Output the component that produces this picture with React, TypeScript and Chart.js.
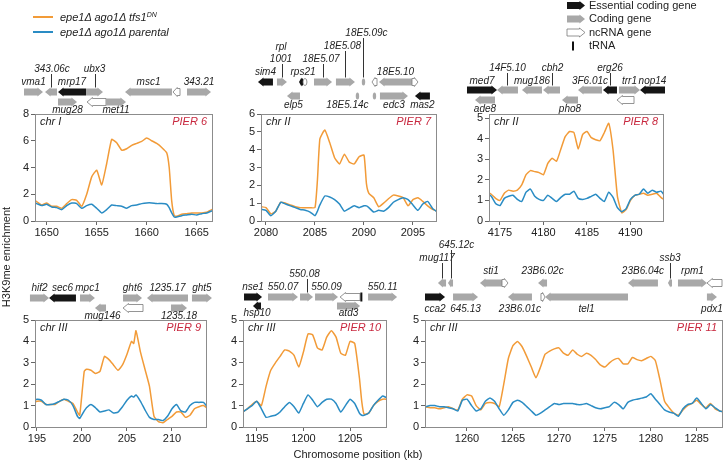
import React, { useEffect, useRef } from "react";
import { Chart, registerables } from "chart.js";

Chart.register(...registerables);

const FONT = "'Liberation Sans', Arial, Helvetica, sans-serif";
const ORANGE = "#f29b38";
const BLUE = "#2a8cc4";
const PIER_RED = "#c8283f";

// ---------- PIER 6 (chr I) ----------
const pier6Ticks = [1650, 1655, 1660, 1665];
const pier6Pos = [1648.5,1649,1649.5,1650,1650.5,1651,1651.5,1652,1652.5,1653,1653.5,1654,1654.5,1655,1655.5,1656,1656.5,1657,1657.5,1658,1658.5,1659,1659.5,1660,1660.5,1661,1661.5,1662,1662.25,1662.5,1662.75,1663,1663.5,1664,1664.5,1665,1665.5,1666,1666.5,1667];
const pier6Tfs = [1.6,1.45,1.2,1.35,1.1,1.1,0.95,1.3,1.6,1.55,1.1,2.0,3.3,3.8,2.7,4.3,6.1,5.85,5.3,5.4,5.65,5.8,5.95,6.2,6.0,5.8,5.5,5.1,4.0,1.5,0.4,0.35,0.5,0.55,0.6,0.6,0.6,0.65,0.85,0.9];
const pier6Par = [1.4,1.3,1.15,1.25,1.05,1.0,0.85,1.15,1.35,1.3,0.95,1.15,1.25,0.95,0.6,0.85,1.2,1.15,1.1,0.95,1.15,1.2,1.3,1.35,1.35,1.3,1.3,1.25,1.0,0.6,0.3,0.3,0.4,0.45,0.5,0.45,0.55,0.6,0.75,0.8];

// ---------- PIER 7 (chr II) ----------
const pier7Ticks = [2080, 2085, 2090, 2095];
const pier7Pos = [2079.5,2080,2080.5,2081,2081.5,2082,2082.5,2083,2083.5,2084,2084.5,2085,2085.25,2085.5,2086,2086.5,2087,2087.5,2088,2088.5,2089,2089.5,2090,2090.25,2090.5,2091,2091.5,2092,2092.5,2093,2093.5,2094,2094.5,2095,2095.5,2096,2096.5,2097,2097.5];
const pier7Tfs = [0.8,0.75,0.4,0.55,1.05,1.0,0.9,0.8,0.75,0.75,0.75,0.75,2.3,4.6,5.1,4.4,3.55,3.2,3.75,3.3,3.2,3.6,3.7,2.1,1.55,1.3,0.8,1.0,1.25,1.45,1.4,1.3,0.85,1.2,1.3,1.1,0.85,0.65,0.55];
const pier7Par = [0.65,0.6,0.3,0.55,1.05,0.95,0.85,0.75,0.65,0.6,0.5,0.3,0.55,0.9,1.4,1.35,1.2,0.95,0.55,0.7,0.85,0.75,0.85,0.85,0.75,0.5,0.6,0.55,0.75,1.05,1.2,1.3,1.2,0.9,0.6,0.95,1.1,0.7,0.5];

// ---------- PIER 8 (chr II) ----------
const pier8Ticks = [4175, 4180, 4185, 4190];
const pier8Pos = [4173.5,4174,4174.5,4175,4175.5,4176,4176.5,4177,4177.5,4178,4178.5,4179,4179.5,4180,4180.5,4181,4181.5,4182,4182.5,4183,4183.5,4184,4184.5,4185,4185.5,4186,4186.5,4187,4187.5,4188,4188.5,4189,4189.5,4190,4190.5,4191,4191.5,4192,4192.5,4193,4193.5,4194];
const pier8Tfs = [1.4,1.3,1.1,1.0,1.35,1.5,1.45,1.5,1.75,2.25,2.45,2.4,2.35,2.25,2.8,3.05,2.9,3.5,4.1,4.35,4.3,3.5,4.2,4.35,4.05,3.95,3.9,4.3,4.75,3.45,1.2,0.4,0.55,1.0,1.25,1.3,1.35,1.25,1.3,1.35,1.15,1.0];
const pier8Par = [1.35,1.2,0.85,0.75,1.1,1.2,1.25,1.05,0.95,1.4,1.55,1.2,1.05,1.0,1.25,1.1,0.95,1.15,1.3,1.3,1.45,1.1,1.05,1.1,1.2,1.3,1.1,0.95,1.4,1.15,0.65,0.45,0.6,1.05,1.25,1.3,1.55,1.35,1.5,1.4,1.45,1.2];

// ---------- PIER 9 (chr III) ----------
const pier9Ticks = [195, 200, 205, 210];
const pier9Pos = [194.5,195,195.5,196,196.5,197,197.5,198,198.5,199,199.5,199.75,200.25,200.5,201,201.5,202,202.5,203,203.5,204,204.5,205,205.5,205.75,206,206.5,207,207.5,208,208.5,209,209.5,210,210.5,211,211.5,212,212.5,213,213.5,214];
const pier9Tfs = [1.1,1.2,1.2,1.05,1.05,1.05,1.2,1.3,1.2,1.1,0.7,0.55,2.6,2.7,2.65,2.5,2.6,3.3,3.15,2.9,2.65,2.9,3.4,4.0,3.9,4.5,3.5,2.7,1.9,0.5,0.25,0.2,0.35,0.5,0.7,0.7,0.45,0.55,0.85,0.95,1.0,0.85];
const pier9Par = [1.2,1.3,1.25,1.05,1.05,1.1,1.2,1.3,1.25,1.0,0.5,0.4,0.75,0.9,1.05,0.9,0.7,0.75,0.8,0.65,0.7,0.95,1.25,1.45,1.4,1.5,1.2,0.8,0.45,0.35,0.35,0.3,0.5,0.85,1.05,0.75,0.7,1.0,1.15,1.15,1.15,0.9];

// ---------- PIER 10 (chr III) ----------
const pier10Ticks = [1195, 1200, 1205];
const pier10Pos = [1193.5,1194,1194.5,1195,1195.5,1196,1196.5,1197,1197.5,1198,1198.5,1199,1199.5,1200,1200.5,1201,1201.5,1202,1202.5,1203,1203.5,1204,1204.5,1205,1205.5,1206,1206.25,1206.5,1207,1207.5,1208,1208.5,1209];
const pier10Tfs = [0.7,0.85,1.05,1.2,1.0,1.9,2.65,3.0,3.3,3.6,3.55,3.35,2.8,3.5,4.35,4.3,3.7,3.6,4.2,4.5,4.2,3.45,3.35,4.0,3.9,2.3,1.2,0.6,0.65,1.0,1.2,1.3,1.3];
const pier10Par = [0.7,0.85,1.0,1.2,0.85,0.45,0.5,0.55,0.7,0.95,1.15,0.95,0.65,1.1,1.5,1.25,0.95,1.15,1.3,1.3,1.1,0.7,1.0,1.3,1.1,0.65,0.55,0.55,0.65,1.0,1.25,1.45,1.35];

// ---------- PIER 11 (chr III) ----------
const pier11Ticks = [1260, 1265, 1270, 1275, 1280, 1285];
const pier11Pos = [1255.5,1256,1256.5,1257,1257.5,1258,1258.5,1259,1259.5,1260,1260.5,1261,1261.5,1262,1262.5,1263,1263.5,1264,1264.5,1265,1265.5,1266,1266.5,1267,1267.5,1268,1268.5,1269,1269.5,1270,1270.5,1271,1271.5,1272,1272.5,1273,1273.5,1274,1274.5,1275,1275.5,1276,1276.5,1277,1277.5,1278,1278.5,1279,1279.5,1280,1280.5,1281,1281.5,1282,1282.5,1283,1283.5,1284,1284.5,1285,1285.5,1286,1286.5,1287,1287.5,1288];
const pier11Tfs = [0.95,0.9,0.9,0.85,0.9,0.95,0.85,0.8,1.3,1.5,1.45,1.0,0.8,1.1,1.15,1.1,0.95,2.0,3.2,3.8,4.0,3.75,3.3,2.8,2.3,2.8,3.4,3.55,3.65,3.7,3.45,3.35,3.6,3.4,3.3,3.45,3.35,3.15,2.9,2.8,3.0,3.15,3.2,2.95,2.95,3.25,3.15,3.1,3.2,3.3,3.1,2.2,1.2,0.9,0.65,0.55,0.8,1.0,1.1,1.25,1.05,0.9,1.1,0.85,0.75,0.7];
const pier11Par = [0.95,1.0,1.0,0.95,0.95,0.9,0.85,0.75,1.25,1.3,1.0,0.75,0.85,1.2,1.35,1.2,0.85,0.55,0.8,1.15,1.25,1.15,0.95,0.75,0.55,0.65,0.8,0.95,1.1,1.05,1.1,1.1,1.1,1.05,1.05,1.1,1.0,0.9,0.85,0.9,0.95,1.15,1.05,0.85,1.15,1.25,1.3,1.35,1.4,1.55,1.3,1.05,0.8,0.7,0.65,0.5,0.85,1.05,1.1,1.35,1.1,0.85,1.05,0.9,0.75,0.7];

// ---------- Gene annotations: [name, start kb, end kb, strand, kind(E/C/N/T), row] ----------
type Gene = [string, number, number, number, string, number];

const genes6: Gene[] = [
  ["vma1", 1647.73, 1649.63, 1, "C", 0],
  ["343.06c", 1649.83, 1651.03, -1, "C", 0],
  ["mrp17", 1651.13, 1653.93, -1, "E", 0],
  ["ubx3", 1653.93, 1655.63, 1, "C", 0],
  ["msc1", 1657.83, 1662.53, -1, "C", 0],
  ["", 1662.63, 1663.33, -1, "N", 0],
  ["343.21", 1664.03, 1666.43, 1, "C", 0],
  ["mug28", 1651.13, 1653.03, 1, "C", 1],
  ["", 1654.03, 1655.93, -1, "N", 1],
  ["met11", 1655.93, 1657.93, 1, "C", 1],
];
const genes7: Gene[] = [
  ["sim4", 2079.18, 2080.71, -1, "E", 0],
  ["rpl\n1001", 2081.12, 2082.14, 1, "C", 0],
  ["rps21", 2083.37, 2083.78, -1, "E", 0],
  ["", 2083.78, 2084.18, -1, "N", 0],
  ["18E5.07", 2084.9, 2086.74, 1, "C", 0],
  ["18E5.08", 2087.14, 2089.08, 1, "C", 0],
  ["18E5.09c", 2089.8, 2090.1, -1, "C", 0],
  ["", 2090.82, 2091.33, -1, "N", 0],
  ["18E5.10", 2091.53, 2094.9, -1, "C", 0],
  ["", 2094.9, 2095.51, 1, "N", 0],
  ["elp5", 2082.14, 2083.47, -1, "C", 1],
  ["18E5.14c", 2089.18, 2089.49, -1, "C", 1],
  ["", 2090.92, 2091.22, -1, "C", 1],
  ["edc3", 2091.63, 2094.49, 1, "C", 1],
  ["mas2", 2095.2, 2096.73, -1, "E", 1],
];
const genes8: Gene[] = [
  ["med7", 4171.21, 4174.66, 1, "E", 0],
  ["14F5.10", 4174.66, 4177.07, -1, "C", 0],
  ["mug186", 4177.53, 4179.83, -1, "C", 0],
  ["cbh2", 4179.95, 4181.9, -1, "C", 0],
  ["3F6.01c", 4183.97, 4186.73, -1, "C", 0],
  ["erg26", 4186.84, 4188.45, -1, "E", 0],
  ["trr1", 4188.68, 4191.1, 1, "C", 0],
  ["nop14", 4191.1, 4193.97, -1, "E", 0],
  ["ade8", 4172.13, 4174.43, -1, "C", 1],
  ["pho8", 4182.13, 4183.97, -1, "C", 1],
  ["", 4188.45, 4190.41, -1, "N", 1],
];
const genes9: Gene[] = [
  ["hif2", 194.22, 196.34, 1, "C", 0],
  ["sec6", 196.34, 199.33, -1, "E", 0],
  ["mpc1", 199.78, 201.44, 1, "C", 0],
  ["ght6", 204.56, 206.67, 1, "C", 0],
  ["1235.17", 207.22, 211.78, -1, "C", 0],
  ["ght5", 212.22, 214.44, 1, "C", 0],
  ["mug146", 201.44, 202.67, -1, "C", 1],
  ["", 204.56, 206.78, -1, "N", 1],
  ["1235.18", 209.89, 211.67, 1, "C", 1],
];
const genes10: Gene[] = [
  ["nse1", 1193.64, 1195.57, 1, "E", 0],
  ["550.07", 1196.21, 1199.42, 1, "C", 0],
  ["550.08", 1199.64, 1201.03, 1, "C", 0],
  ["550.09", 1201.25, 1203.71, 1, "C", 0],
  ["", 1203.93, 1206.07, -1, "N", 0],
  ["", 1206.12, 1206.3, 1, "T", 0],
  ["550.11", 1206.93, 1210.04, 1, "C", 0],
  ["hsp10", 1194.6, 1195.46, -1, "E", 1],
  ["atd3", 1203.6, 1206.07, 1, "C", 1],
];
const genes11: Gene[] = [
  ["mug117", 1256.84, 1257.72, -1, "C", 0],
  ["645.12c", 1257.93, 1258.48, -1, "C", 0],
  ["sti1", 1261.41, 1263.81, -1, "C", 0],
  ["", 1263.81, 1264.46, 1, "N", 0],
  ["23B6.02c", 1267.73, 1268.71, -1, "C", 0],
  ["23B6.04c", 1277.52, 1280.78, -1, "C", 0],
  ["ssb3", 1281.87, 1282.31, -1, "C", 0],
  ["rpm1", 1282.96, 1286.11, 1, "C", 0],
  ["", 1286.11, 1287.75, -1, "N", 0],
  ["cca2", 1255.43, 1257.61, 1, "E", 1],
  ["645.13", 1258.48, 1261.2, 1, "C", 1],
  ["23B6.01c", 1264.46, 1267.07, -1, "C", 1],
  ["", 1268.05, 1268.49, 1, "N", 1],
  ["tel1", 1268.49, 1277.52, -1, "C", 1],
  ["pdx1", 1286.11, 1287.2, 1, "C", 1],
];

// label layout: [level (1 = just above, >1 = raised with leader line, -1 = below), x offset px]
const labels6: Record<string, [number, number]> = { "343.06c": [2, 1], ubx3: [2, 0] };
const labels7: Record<string, [number, number]> = {
  "rpl\n1001": [2, -1], rps21: [1, 2], "18E5.07": [2, -2], "18E5.08": [3, -3], "18E5.09c": [4, 3], "18E5.14c": [-1, -10],
};
const labels8: Record<string, [number, number]> = { "14F5.10": [2, 0], cbh2: [2, 1], erg26: [2, 0] };
const labels9: Record<string, [number, number]> = { mug146: [-1, 2] };
const labels10: Record<string, [number, number]> = { "550.08": [2, -2] };
const labels11: Record<string, [number, number]> = { mug117: [2, -5], "645.12c": [3, 6], ssb3: [2, 0] };

type PanelCfg = {
  box: { left: number; top: number; w: number; h: number };
  area: { l: number; r: number; t: number; b: number };
  xMin: number; xMax: number; yMax: number; yStep: number; xTicks: number[];
  rows: number[]; above: number; below: number;
  chr: string; pier: string;
  pos: number[]; tfs: number[]; par: number[];
  genes: Gene[]; labels: Record<string, [number, number]>;
  legend?: boolean;
};

const PANELS: PanelCfg[] = [
  { box: { left: 0, top: 0, w: 222, h: 245 }, area: { l: 35, r: 212, t: 114, b: 221 }, xMin: 1648.83, xMax: 1666.53, yMax: 8, yStep: 2, xTicks: pier6Ticks,
    rows: [92, 102], above: 10, below: 8.5, chr: "chr I", pier: "PIER 6", pos: pier6Pos, tfs: pier6Tfs, par: pier6Par, genes: genes6, labels: labels6 },
  { box: { left: 226, top: 0, w: 216, h: 245 }, area: { l: 261, r: 436, t: 114, b: 221 }, xMin: 2079.49, xMax: 2097.35, yMax: 6, yStep: 1, xTicks: pier7Ticks,
    rows: [82, 96], above: 10, below: 9, chr: "chr II", pier: "PIER 7", pos: pier7Pos, tfs: pier7Tfs, par: pier7Par, genes: genes7, labels: labels7 },
  { box: { left: 455, top: 0, w: 270, h: 245 }, area: { l: 489, r: 663, t: 114, b: 221 }, xMin: 4173.74, xMax: 4193.74, yMax: 5.2, yStep: 1, xTicks: pier8Ticks,
    rows: [90, 100], above: 9, below: 9, chr: "chr II", pier: "PIER 8", pos: pier8Pos, tfs: pier8Tfs, par: pier8Par, genes: genes8, labels: labels8, legend: true },
  { box: { left: 0, top: 225, w: 214, h: 222 }, area: { l: 35, r: 206, t: 320, b: 427 }, xMin: 194.78, xMax: 213.78, yMax: 5, yStep: 1, xTicks: pier9Ticks,
    rows: [298, 308], above: 9.5, below: 8, chr: "chr III", pier: "PIER 9", pos: pier9Pos, tfs: pier9Tfs, par: pier9Par, genes: genes9, labels: labels9 },
  { box: { left: 214, top: 225, w: 184, h: 222 }, area: { l: 243, r: 386, t: 320, b: 427 }, xMin: 1193.53, xMax: 1208.85, yMax: 5, yStep: 1, xTicks: pier10Ticks,
    rows: [297, 306], above: 10, below: 7.5, chr: "chr III", pier: "PIER 10", pos: pier10Pos, tfs: pier10Tfs, par: pier10Par, genes: genes10, labels: labels10 },
  { box: { left: 398, top: 225, w: 327, h: 222 }, area: { l: 425, r: 722, t: 320, b: 427 }, xMin: 1255.43, xMax: 1287.75, yMax: 5, yStep: 1, xTicks: pier11Ticks,
    rows: [283, 297], above: 12, below: 12, chr: "chr III", pier: "PIER 11", pos: pier11Pos, tfs: pier11Tfs, par: pier11Par, genes: genes11, labels: labels11 },
];

function drawGene(ctx: CanvasRenderingContext2D, x1: number, x2: number, y: number, strand: number, kind: string) {
  ctx.save();
  if (kind === "T") {
    ctx.fillStyle = "#111";
    ctx.fillRect((x1 + x2) / 2 - 1, y - 4.5, 2, 9);
    ctx.restore();
    return;
  }
  const w = x2 - x1;
  const bh = 3.5, hh = 4.5;
  const hl = Math.min(5.5, w * 0.6);
  ctx.beginPath();
  if (w < 4) {
    ctx.ellipse((x1 + x2) / 2, y, Math.max(w / 2, 1.7), bh, 0, 0, Math.PI * 2);
  } else if (strand > 0) {
    ctx.moveTo(x1, y - bh); ctx.lineTo(x2 - hl, y - bh); ctx.lineTo(x2 - hl, y - hh); ctx.lineTo(x2, y);
    ctx.lineTo(x2 - hl, y + hh); ctx.lineTo(x2 - hl, y + bh); ctx.lineTo(x1, y + bh); ctx.closePath();
  } else {
    ctx.moveTo(x2, y - bh); ctx.lineTo(x1 + hl, y - bh); ctx.lineTo(x1 + hl, y - hh); ctx.lineTo(x1, y);
    ctx.lineTo(x1 + hl, y + hh); ctx.lineTo(x1 + hl, y + bh); ctx.lineTo(x2, y + bh); ctx.closePath();
  }
  ctx.fillStyle = kind === "E" ? "#151515" : kind === "N" ? "#ffffff" : "#a8a8a8";
  ctx.fill();
  if (kind === "N") {
    ctx.strokeStyle = "#7a7a7a";
    ctx.lineWidth = 0.8;
    ctx.stroke();
  }
  ctx.restore();
}

function makeConfig(p: PanelCfg): any {
  const tickFont = { family: FONT, size: 11 };
  const annot = {
    id: "annot",
    afterDraw(chart: any) {
      const ctx: CanvasRenderingContext2D = chart.ctx;
      const a = chart.chartArea;
      const xs = chart.scales.x;
      ctx.save();
      ctx.strokeStyle = "#8c8c8c";
      ctx.lineWidth = 1;
      ctx.strokeRect(Math.round(a.left) + 0.5, Math.round(a.top) + 0.5, Math.round(a.right - a.left), Math.round(a.bottom - a.top));
      ctx.font = `italic 11px ${FONT}`;
      ctx.textBaseline = "middle";
      ctx.fillStyle = "#222";
      ctx.textAlign = "left";
      ctx.fillText(p.chr, a.left + 5, a.top + 8);
      ctx.fillStyle = PIER_RED;
      ctx.textAlign = "right";
      ctx.fillText(p.pier, a.right - 5, a.top + 8);
      for (const g of p.genes) {
        const [name, s, e, strand, kind, row] = g;
        const x1 = xs.getPixelForValue(s);
        const x2 = xs.getPixelForValue(e);
        const y = p.rows[row] - p.box.top;
        drawGene(ctx, x1, x2, y, strand, kind);
        if (!name) continue;
        const lay = p.labels[name];
        const lv = lay ? lay[0] : row === 0 ? 1 : -1;
        const dx = lay ? lay[1] : 0;
        const xc = (x1 + x2) / 2;
        ctx.font = `italic 10px ${FONT}`;
        ctx.fillStyle = "#222";
        ctx.textAlign = "center";
        ctx.textBaseline = "middle";
        if (lv < 0) {
          ctx.fillText(name, xc + dx, y + p.below);
        } else {
          const ly = y - p.above - (lv - 1) * 13;
          const lines = name.split("\n");
          lines.forEach((t, i) => ctx.fillText(t, xc + dx, ly - (lines.length - 1 - i) * 12));
          if (lv > 1) {
            ctx.strokeStyle = "#333";
            ctx.lineWidth = 1;
            ctx.beginPath();
            ctx.moveTo(Math.round(xc) + 0.5, ly + 5);
            ctx.lineTo(Math.round(xc) + 0.5, y - 4.5);
            ctx.stroke();
          }
        }
      }
      if (p.legend) {
        const lx1 = 567 - p.box.left, lx2 = 585 - p.box.left;
        const items: [string, string][] = [["E", "Essential coding gene"], ["C", "Coding gene"], ["N", "ncRNA gene"], ["T", "tRNA"]];
        items.forEach(([k, t], i) => {
          const yy = 5.5 + i * 13.5;
          if (k === "T") {
            ctx.fillStyle = "#111";
            ctx.fillRect(lx1 + 5, yy - 4.5, 2, 9);
          } else {
            drawGene(ctx, lx1, lx2, yy, 1, k);
          }
          ctx.font = `11px ${FONT}`;
          ctx.fillStyle = "#222";
          ctx.textAlign = "left";
          ctx.textBaseline = "middle";
          ctx.fillText(t, lx2 + 4, yy);
        });
      }
      ctx.restore();
    },
  };
  return {
    type: "line",
    data: {
      datasets: [
        { label: "parental", data: p.pos.map((x, i) => ({ x, y: p.par[i] })), borderColor: BLUE, borderWidth: 1.5, pointRadius: 0, tension: 0.15 },
        { label: "tfs1DN", data: p.pos.map((x, i) => ({ x, y: p.tfs[i] })), borderColor: ORANGE, borderWidth: 1.5, pointRadius: 0, tension: 0.15 },
      ],
    },
    options: {
      animation: false,
      responsive: true,
      maintainAspectRatio: false,
      devicePixelRatio: 1,
      layout: { padding: { left: 0, top: p.area.t - p.box.top, right: p.box.left + p.box.w - p.area.r, bottom: 0 } },
      plugins: { legend: { display: false }, tooltip: { enabled: false } },
      scales: {
        x: {
          type: "linear",
          min: p.xMin,
          max: p.xMax,
          afterBuildTicks: (s: any) => { s.ticks = p.xTicks.map((v) => ({ value: v })); },
          afterFit: (s: any) => { s.height = p.box.top + p.box.h - p.area.b; },
          ticks: { autoSkip: false, maxRotation: 0, padding: 1, font: tickFont, color: "#222", callback: (v: any) => String(v) },
          grid: { display: true, drawOnChartArea: false, drawTicks: true, tickLength: 4, color: "#666" },
          border: { display: true, color: "#8c8c8c" },
        },
        y: {
          type: "linear",
          min: 0,
          max: p.yMax,
          afterFit: (s: any) => { s.width = p.area.l - p.box.left; },
          ticks: { stepSize: p.yStep, includeBounds: false, padding: 2, font: tickFont, color: "#222" },
          grid: { display: true, drawOnChartArea: false, drawTicks: true, tickLength: 4, color: "#666" },
          border: { display: true, color: "#8c8c8c" },
        },
      },
    },
    plugins: [annot],
  };
}

function Panel({ p }: { p: PanelCfg }) {
  const ref = useRef<HTMLCanvasElement>(null);
  useEffect(() => {
    const chart = new Chart(ref.current as HTMLCanvasElement, makeConfig(p));
    return () => chart.destroy();
  }, [p]);
  return (
    <div style={{ position: "absolute", left: p.box.left, top: p.box.top, width: p.box.w, height: p.box.h }}>
      <canvas ref={ref} />
    </div>
  );
}

export default function App() {
  const txt: React.CSSProperties = { position: "absolute", fontFamily: FONT, fontSize: 11, color: "#222", whiteSpace: "nowrap", lineHeight: "14px" };
  return (
    <div style={{ position: "absolute", left: 0, top: 0, width: 725, height: 462, background: "#fff", overflow: "hidden" }}>
      {PANELS.map((p, i) => (
        <Panel key={i} p={p} />
      ))}
      <div style={{ position: "absolute", left: 33, top: 16, width: 20, height: 2, background: ORANGE }} />
      <div style={{ ...txt, left: 60, top: 10, fontStyle: "italic" }}>
        epe1Δ ago1Δ tfs1<span style={{ fontSize: 7, position: "relative", top: -4 }}>DN</span>
      </div>
      <div style={{ position: "absolute", left: 33, top: 31, width: 20, height: 2, background: BLUE }} />
      <div style={{ ...txt, left: 60, top: 25, fontStyle: "italic" }}>epe1Δ ago1Δ parental</div>
      <div style={{ ...txt, left: -94, top: 250, width: 200, textAlign: "center", transform: "rotate(-90deg)" }}>H3K9me enrichment</div>
      <div style={{ ...txt, left: 258, top: 447, width: 200, textAlign: "center" }}>Chromosome position (kb)</div>
    </div>
  );
}
